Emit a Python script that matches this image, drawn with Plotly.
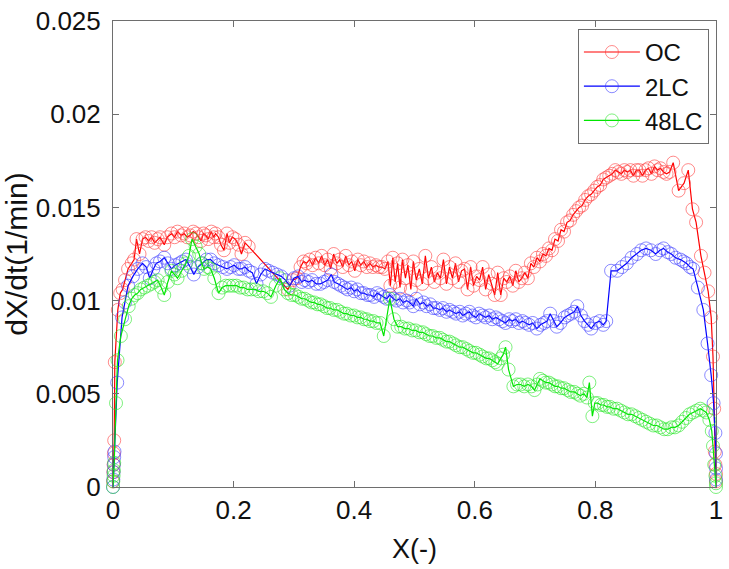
import plotly.graph_objects as go

# ---------------- data ----------------
oc_x = [0.000, 0.0005, 0.001, 0.0015, 0.002, 0.003, 0.008, 0.012, 0.016, 0.020, 0.025, 0.031, 0.035, 0.039,
        0.044, 0.049, 0.054, 0.059, 0.064, 0.069, 0.074, 0.078, 0.085, 0.090, 0.097, 0.102, 0.107, 0.113,
        0.118, 0.123, 0.128, 0.133, 0.138, 0.142, 0.146, 0.150, 0.154, 0.158, 0.163, 0.167, 0.170, 0.175,
        0.179, 0.184, 0.189, 0.193, 0.198, 0.203, 0.208, 0.213, 0.219, 0.225, 0.290, 0.298, 0.305, 0.311,
        0.316, 0.321, 0.326, 0.331, 0.336, 0.341, 0.346, 0.351, 0.356, 0.361, 0.366, 0.371, 0.376, 0.381,
        0.386, 0.391, 0.396, 0.401, 0.406, 0.411, 0.416, 0.421, 0.426, 0.431, 0.436, 0.441, 0.446, 0.451,
        0.456, 0.460, 0.464, 0.468, 0.472, 0.476, 0.480, 0.485, 0.489, 0.494, 0.498, 0.503, 0.508, 0.513,
        0.518, 0.523, 0.528, 0.533, 0.538, 0.543, 0.548, 0.553, 0.558, 0.563, 0.568, 0.573, 0.578, 0.583,
        0.588, 0.593, 0.598, 0.603, 0.608, 0.613, 0.618, 0.623, 0.628, 0.633, 0.638, 0.643, 0.648, 0.653,
        0.658, 0.663, 0.668, 0.673, 0.678, 0.683, 0.688, 0.693, 0.698, 0.703, 0.708, 0.713, 0.718, 0.723,
        0.728, 0.733, 0.738, 0.743, 0.748, 0.753, 0.758, 0.763, 0.768, 0.773, 0.778, 0.783, 0.788, 0.793,
        0.798, 0.803, 0.808, 0.813, 0.818, 0.823, 0.828, 0.833, 0.838, 0.843, 0.848, 0.853, 0.858, 0.863,
        0.868, 0.873, 0.878, 0.883, 0.888, 0.893, 0.898, 0.903, 0.908, 0.913, 0.918, 0.923, 0.929, 0.938,
        0.947, 0.954, 0.961, 0.967, 0.975, 0.981, 0.987, 0.992, 0.995, 0.997, 0.998, 0.999, 1.000, 1.000]
oc_y = [0.0003, 0.0008, 0.0012, 0.0018, 0.0025, 0.0067, 0.0095, 0.0104, 0.0106, 0.0111, 0.0117, 0.0120, 0.0122, 0.0133,
        0.0125, 0.0133, 0.0134, 0.0132, 0.0134, 0.0131, 0.0133, 0.0134, 0.0130, 0.0134, 0.0136, 0.0134, 0.0137, 0.0135,
        0.0136, 0.0134, 0.0135, 0.0137, 0.0136, 0.0134, 0.0132, 0.0136, 0.0135, 0.0133, 0.0137, 0.0134, 0.0136, 0.0134,
        0.0130, 0.0127, 0.0136, 0.0131, 0.0134, 0.0133, 0.0130, 0.0125, 0.0131, 0.0129, 0.0106, 0.0111, 0.0112, 0.0118,
        0.0121, 0.0120, 0.0122, 0.0119, 0.0123, 0.0120, 0.0124, 0.0119, 0.0122, 0.0117, 0.0125, 0.0120, 0.0122, 0.0118,
        0.0124, 0.0119, 0.0121, 0.0116, 0.0122, 0.0119, 0.0121, 0.0118, 0.0120, 0.0118, 0.0119, 0.0118, 0.0118, 0.0117,
        0.0121, 0.0108, 0.0123, 0.0110, 0.0120, 0.0107, 0.0122, 0.0112, 0.0119, 0.0106, 0.0121, 0.0111, 0.0117, 0.0109,
        0.0124, 0.0112, 0.0118, 0.0110, 0.0115, 0.0112, 0.0122, 0.0109, 0.0118, 0.0112, 0.0120, 0.0110, 0.0116, 0.0117,
        0.0106, 0.0118, 0.0108, 0.0113, 0.0111, 0.0118, 0.0106, 0.0114, 0.0109, 0.0103, 0.0115, 0.0103, 0.0112, 0.0110,
        0.0113, 0.0108, 0.0116, 0.0110, 0.0112, 0.0115, 0.0112, 0.0120, 0.0118, 0.0123, 0.0121, 0.0125, 0.0124, 0.0128,
        0.0127, 0.0133, 0.0132, 0.0138, 0.0137, 0.0142, 0.0143, 0.0146, 0.0148, 0.0150, 0.0151, 0.0154, 0.0156, 0.0157,
        0.0159, 0.0161, 0.0162, 0.0165, 0.0166, 0.0167, 0.0168, 0.0170, 0.0169, 0.0168, 0.0170, 0.0169, 0.0170, 0.0167,
        0.0170, 0.0170, 0.0167, 0.0170, 0.0171, 0.0168, 0.0172, 0.0170, 0.0171, 0.0169, 0.0168, 0.0169, 0.0174, 0.0159,
        0.0163, 0.0170, 0.0149, 0.0142, 0.0124, 0.0115, 0.0105, 0.0091, 0.0070, 0.0042, 0.0019, 0.0012, 0.0007, 0.0003]

lc2_x = [0.000, 0.0005, 0.001, 0.0015, 0.002, 0.0025, 0.007, 0.015, 0.020, 0.025, 0.033, 0.041, 0.049, 0.055,
         0.061, 0.067, 0.072, 0.078, 0.085, 0.091, 0.097, 0.103, 0.110, 0.115, 0.121, 0.128, 0.134, 0.141,
         0.148, 0.155, 0.162, 0.168, 0.175, 0.182, 0.189, 0.195, 0.201, 0.208, 0.213, 0.219, 0.225, 0.231,
         0.238, 0.245, 0.252, 0.258, 0.265, 0.272, 0.279, 0.286, 0.293, 0.300, 0.307, 0.313, 0.318, 0.324,
         0.330, 0.337, 0.344, 0.350, 0.356, 0.362, 0.367, 0.373, 0.378, 0.384, 0.389, 0.395, 0.400, 0.405,
         0.411, 0.416, 0.422, 0.427, 0.433, 0.438, 0.443, 0.449, 0.454, 0.459, 0.465, 0.470, 0.476, 0.481,
         0.487, 0.492, 0.498, 0.503, 0.509, 0.515, 0.520, 0.526, 0.531, 0.536, 0.542, 0.547, 0.553, 0.558,
         0.564, 0.569, 0.575, 0.580, 0.585, 0.591, 0.596, 0.602, 0.607, 0.613, 0.618, 0.624, 0.629, 0.635,
         0.640, 0.646, 0.651, 0.657, 0.662, 0.668, 0.673, 0.679, 0.684, 0.690, 0.696, 0.703, 0.709, 0.715,
         0.720, 0.725, 0.731, 0.736, 0.742, 0.749, 0.754, 0.760, 0.765, 0.770, 0.776, 0.782, 0.788, 0.793,
         0.800, 0.807, 0.813, 0.818, 0.826, 0.836, 0.844, 0.852, 0.860, 0.869, 0.876, 0.884, 0.892, 0.900,
         0.907, 0.913, 0.920, 0.926, 0.933, 0.941, 0.946, 0.951, 0.957, 0.962, 0.970, 0.979, 0.986, 0.992,
         0.996, 0.999, 1.000, 1.000, 1.000]
lc2_y = [0.0000, 0.0004, 0.0008, 0.0012, 0.0016, 0.0019, 0.0056, 0.0091, 0.0099, 0.0108, 0.0113, 0.0117, 0.0120, 0.0118,
         0.0112, 0.0117, 0.0120, 0.0121, 0.0123, 0.0120, 0.0117, 0.0119, 0.0120, 0.0121, 0.0122, 0.0118, 0.0114, 0.0118,
         0.0120, 0.0122, 0.0122, 0.0120, 0.0119, 0.0118, 0.0117, 0.0118, 0.0119, 0.0117, 0.0117, 0.0118, 0.0116, 0.0115,
         0.0109, 0.0114, 0.0117, 0.0116, 0.0115, 0.0114, 0.0113, 0.0111, 0.0108, 0.0112, 0.0113, 0.0110, 0.0111, 0.0110,
         0.0111, 0.0109, 0.0109, 0.0110, 0.0111, 0.0114, 0.0110, 0.0109, 0.0108, 0.0107, 0.0106, 0.0107, 0.0105, 0.0106,
         0.0104, 0.0104, 0.0103, 0.0103, 0.0102, 0.0104, 0.0103, 0.0102, 0.0101, 0.0103, 0.0101, 0.0100, 0.0101, 0.0099,
         0.0100, 0.0099, 0.0097, 0.0101, 0.0098, 0.0099, 0.0097, 0.0098, 0.0096, 0.0096, 0.0095, 0.0096, 0.0094, 0.0095,
         0.0094, 0.0093, 0.0094, 0.0092, 0.0093, 0.0094, 0.0092, 0.0091, 0.0093, 0.0092, 0.0091, 0.0092, 0.0090, 0.0091,
         0.0090, 0.0089, 0.0088, 0.0090, 0.0089, 0.0090, 0.0088, 0.0089, 0.0088, 0.0087, 0.0088, 0.0085, 0.0087, 0.0088,
         0.0089, 0.0093, 0.0089, 0.0086, 0.0088, 0.0091, 0.0092, 0.0093, 0.0094, 0.0097, 0.0092, 0.0089, 0.0087, 0.0085,
         0.0088, 0.0089, 0.0087, 0.0089, 0.0116, 0.0116, 0.0118, 0.0120, 0.0123, 0.0125, 0.0127, 0.0128, 0.0127, 0.0125,
         0.0127, 0.0128, 0.0126, 0.0125, 0.0123, 0.0122, 0.0121, 0.0120, 0.0118, 0.0117, 0.0107, 0.0095, 0.0077, 0.0060,
         0.0045, 0.0029, 0.0018, 0.0010, 0.0004]

lc48_x = [0.000, 0.0005, 0.001, 0.0015, 0.002, 0.005, 0.0075, 0.013, 0.020, 0.026, 0.031, 0.036, 0.041, 0.046,
          0.052, 0.058, 0.064, 0.069, 0.074, 0.080, 0.085, 0.091, 0.097, 0.102, 0.107, 0.114, 0.121, 0.126,
          0.131, 0.137, 0.143, 0.147, 0.151, 0.157, 0.162, 0.168, 0.175, 0.181, 0.187, 0.193, 0.199, 0.205,
          0.211, 0.217, 0.223, 0.229, 0.236, 0.242, 0.249, 0.256, 0.262, 0.270, 0.277, 0.284, 0.290, 0.296,
          0.302, 0.308, 0.313, 0.318, 0.324, 0.329, 0.334, 0.339, 0.344, 0.350, 0.355, 0.360, 0.366, 0.372,
          0.377, 0.383, 0.388, 0.394, 0.400, 0.405, 0.411, 0.416, 0.421, 0.426, 0.432, 0.437, 0.443, 0.449,
          0.459, 0.466, 0.472, 0.478, 0.484, 0.490, 0.496, 0.502, 0.508, 0.514, 0.519, 0.525, 0.530, 0.536,
          0.542, 0.547, 0.553, 0.558, 0.564, 0.569, 0.575, 0.580, 0.586, 0.591, 0.597, 0.602, 0.608, 0.613,
          0.619, 0.624, 0.629, 0.634, 0.638, 0.643, 0.647, 0.651, 0.656, 0.664, 0.670, 0.676, 0.682, 0.688,
          0.694, 0.699, 0.704, 0.708, 0.713, 0.718, 0.723, 0.728, 0.733, 0.738, 0.743, 0.748, 0.754, 0.759,
          0.765, 0.770, 0.775, 0.781, 0.786, 0.790, 0.795, 0.799, 0.804, 0.809, 0.814, 0.819, 0.824, 0.830,
          0.836, 0.842, 0.848, 0.854, 0.860, 0.866, 0.872, 0.878, 0.884, 0.890, 0.896, 0.902, 0.908, 0.914,
          0.920, 0.926, 0.932, 0.938, 0.944, 0.950, 0.956, 0.962, 0.968, 0.974, 0.979, 0.984, 0.989, 0.993,
          0.995, 0.997, 0.999, 1.000, 1.000]
lc48_y = [0.0000, 0.0003, 0.0006, 0.0009, 0.0013, 0.0045, 0.0068, 0.0081, 0.0090, 0.0097, 0.0101, 0.0103, 0.0104, 0.0106,
          0.0107, 0.0108, 0.0109, 0.0110, 0.0111, 0.0107, 0.0103, 0.0110, 0.0116, 0.0114, 0.0112, 0.0116, 0.0120, 0.0124,
          0.0133, 0.0129, 0.0125, 0.0120, 0.0117, 0.0118, 0.0117, 0.0112, 0.0104, 0.0107, 0.0108, 0.0108, 0.0108, 0.0108,
          0.0107, 0.0107, 0.0106, 0.0106, 0.0106, 0.0105, 0.0105, 0.0104, 0.0102, 0.0108, 0.0112, 0.0106, 0.0104, 0.0103,
          0.0103, 0.0102, 0.0101, 0.0101, 0.0100, 0.0099, 0.0099, 0.0098, 0.0098, 0.0097, 0.0096, 0.0096, 0.0095, 0.0095,
          0.0094, 0.0093, 0.0093, 0.0092, 0.0092, 0.0091, 0.0091, 0.0090, 0.0090, 0.0089, 0.0089, 0.0088, 0.0088, 0.0081,
          0.0101, 0.0090, 0.0086, 0.0086, 0.0085, 0.0085, 0.0084, 0.0084, 0.0083, 0.0083, 0.0082, 0.0081, 0.0081, 0.0080,
          0.0080, 0.0079, 0.0078, 0.0078, 0.0077, 0.0076, 0.0075, 0.0075, 0.0074, 0.0073, 0.0072, 0.0072, 0.0071, 0.0070,
          0.0069, 0.0069, 0.0068, 0.0067, 0.0066, 0.0069, 0.0071, 0.0075, 0.0063, 0.0054, 0.0055, 0.0055, 0.0054, 0.0055,
          0.0054, 0.0052, 0.0055, 0.0058, 0.0057, 0.0056, 0.0056, 0.0055, 0.0054, 0.0054, 0.0053, 0.0053, 0.0052, 0.0051,
          0.0051, 0.0050, 0.0049, 0.0050, 0.0048, 0.0056, 0.0038, 0.0045, 0.0045, 0.0044, 0.0044, 0.0043, 0.0043, 0.0042,
          0.0042, 0.0041, 0.0040, 0.0039, 0.0039, 0.0038, 0.0037, 0.0036, 0.0035, 0.0034, 0.0033, 0.0033, 0.0032, 0.0031,
          0.0031, 0.0032, 0.0032, 0.0033, 0.0035, 0.0037, 0.0039, 0.0040, 0.0041, 0.0042, 0.0041, 0.0040, 0.0036, 0.0030,
          0.0022, 0.0012, 0.0006, 0.0002, 0.0000]

series_names = ["OC", "2LC", "48LC"]
x_tick_vals = [0, 0.2, 0.4, 0.6, 0.8, 1]
x_tick_text = ["0", "0.2", "0.4", "0.6", "0.8", "1"]
y_tick_vals = [0, 0.005, 0.01, 0.015, 0.02, 0.025]
y_tick_text = ["0", "0.005", "0.01", "0.015", "0.02", "0.025"]

# ---------------- figure ----------------
FONT = "Liberation Sans, Arial, sans-serif"
line_colors = ["rgb(255,0,0)", "rgb(0,0,255)", "rgb(0,230,0)"]
marker_colors = ["rgba(255,60,60,0.6)", "rgba(60,60,255,0.6)", "rgba(40,230,40,0.6)"]
data = [(oc_x, oc_y), (lc2_x, lc2_y), (lc48_x, lc48_y)]

fig = go.Figure()
for (xs, ys), name, lc, mc in zip(data, series_names, line_colors, marker_colors):
    fig.add_trace(go.Scatter(
        x=xs, y=ys, name=name, mode="lines+markers",
        line=dict(color=lc, width=1.2),
        marker=dict(symbol="circle-open", size=13, color=mc, line=dict(width=1, color=mc)),
        cliponaxis=False,
    ))

axis_common = dict(
    showline=True, linecolor="#6e6e6e", linewidth=1, mirror="ticks",
    ticks="inside", ticklen=6, tickcolor="#6e6e6e", tickwidth=1,
    showgrid=False, zeroline=False, ticklabeloverflow="allow",
    tickfont=dict(family=FONT, size=26, color="#111"),
)

fig.update_layout(
    width=729, height=569,
    margin=dict(l=113, r=6, t=8, b=82),
    paper_bgcolor="white", plot_bgcolor="white",
    font=dict(family=FONT, size=26, color="#111"),
    xaxis=dict(range=[0, 1], tickvals=x_tick_vals, ticktext=x_tick_text,
               title=dict(text="X(-)", font=dict(family=FONT, size=27), standoff=14),
               **axis_common),
    yaxis=dict(range=[0, 0.025], tickvals=y_tick_vals, ticktext=y_tick_text,
               ticklabelstandoff=6,
               title=dict(text="dX/dt(1/min)", font=dict(family=FONT, size=30), standoff=8),
               **axis_common),
    legend=dict(x=0.771, y=0.983, xanchor="left", yanchor="top",
                bordercolor="#6e6e6e", borderwidth=1, bgcolor="white",
                font=dict(family=FONT, size=24, color="#111"),
                tracegroupgap=0, itemwidth=56),
    showlegend=True,
)

fig.write_html("out.html", config={"displayModeBar": False},
               post_script="document.body.style.margin='0';")
